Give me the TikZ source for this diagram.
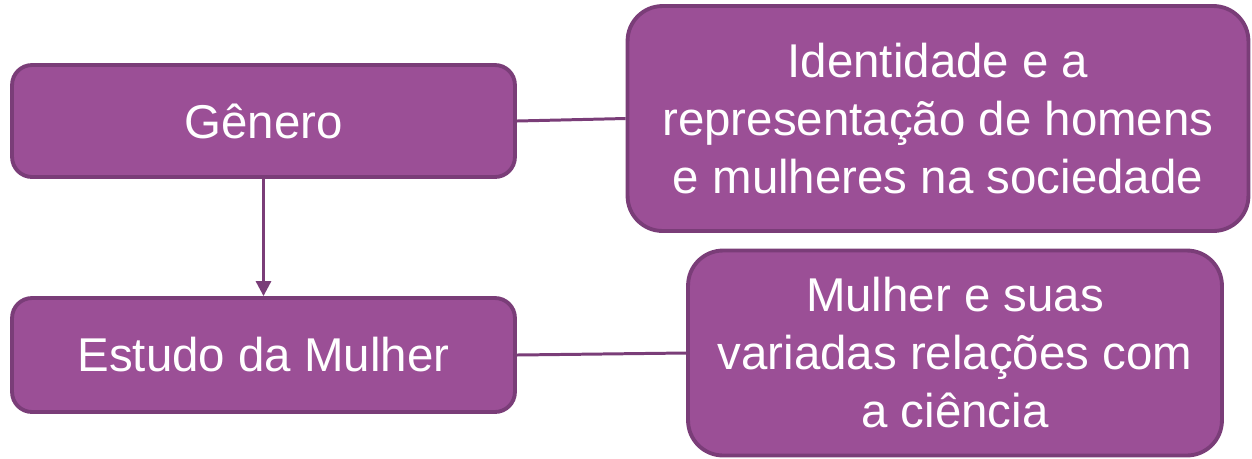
\documentclass[tikz,border=0pt]{standalone}
\usepackage{fontspec}
\setmainfont{Liberation Sans}
\usepackage{tikz}
\usetikzlibrary{positioning,shapes,arrows.meta}
\definecolor{boxfill}{HTML}{9B4F96}
\definecolor{boxline}{HTML}{7A3D78}

\begin{document}
\begin{tikzpicture}[
  x=0.02cm, y=-0.02cm,
  mybox/.style={draw=boxline,fill=boxfill,line width=2.2pt,rounded corners=0.4cm,
    text=white,align=center,font=\fontsize{27}{33}\selectfont,inner sep=0pt},
  bigbox/.style={mybox,rounded corners=0.7cm},
  link/.style={draw=boxline,line width=1.7pt}
]
\useasboundingbox (0,0) rectangle (1252,458);

\node[mybox,minimum width=10.06cm,minimum height=2.24cm] (gen) at (263.5,121) {Gênero};
\node[mybox,minimum width=10.06cm,minimum height=2.28cm] (estudo) at (263.5,355) {Estudo da Mulher};

\node[bigbox,minimum width=12.42cm,minimum height=4.5cm] (ident) at (938,118.5)
  {Identidade e a\\representação de homens\\e mulheres na sociedade};
\node[bigbox,minimum width=10.68cm,minimum height=4.1cm] (mulher) at (955,353)
  {Mulher e suas\\variadas relações com\\a ciência};

\path (gen) edge[link,-{Triangle[width=0.3cm,length=0.3cm]}] (estudo)
(gen.east) edge[link] (ident.west)
(estudo.east) edge[link] (mulher.west);

\end{tikzpicture}
\end{document}
